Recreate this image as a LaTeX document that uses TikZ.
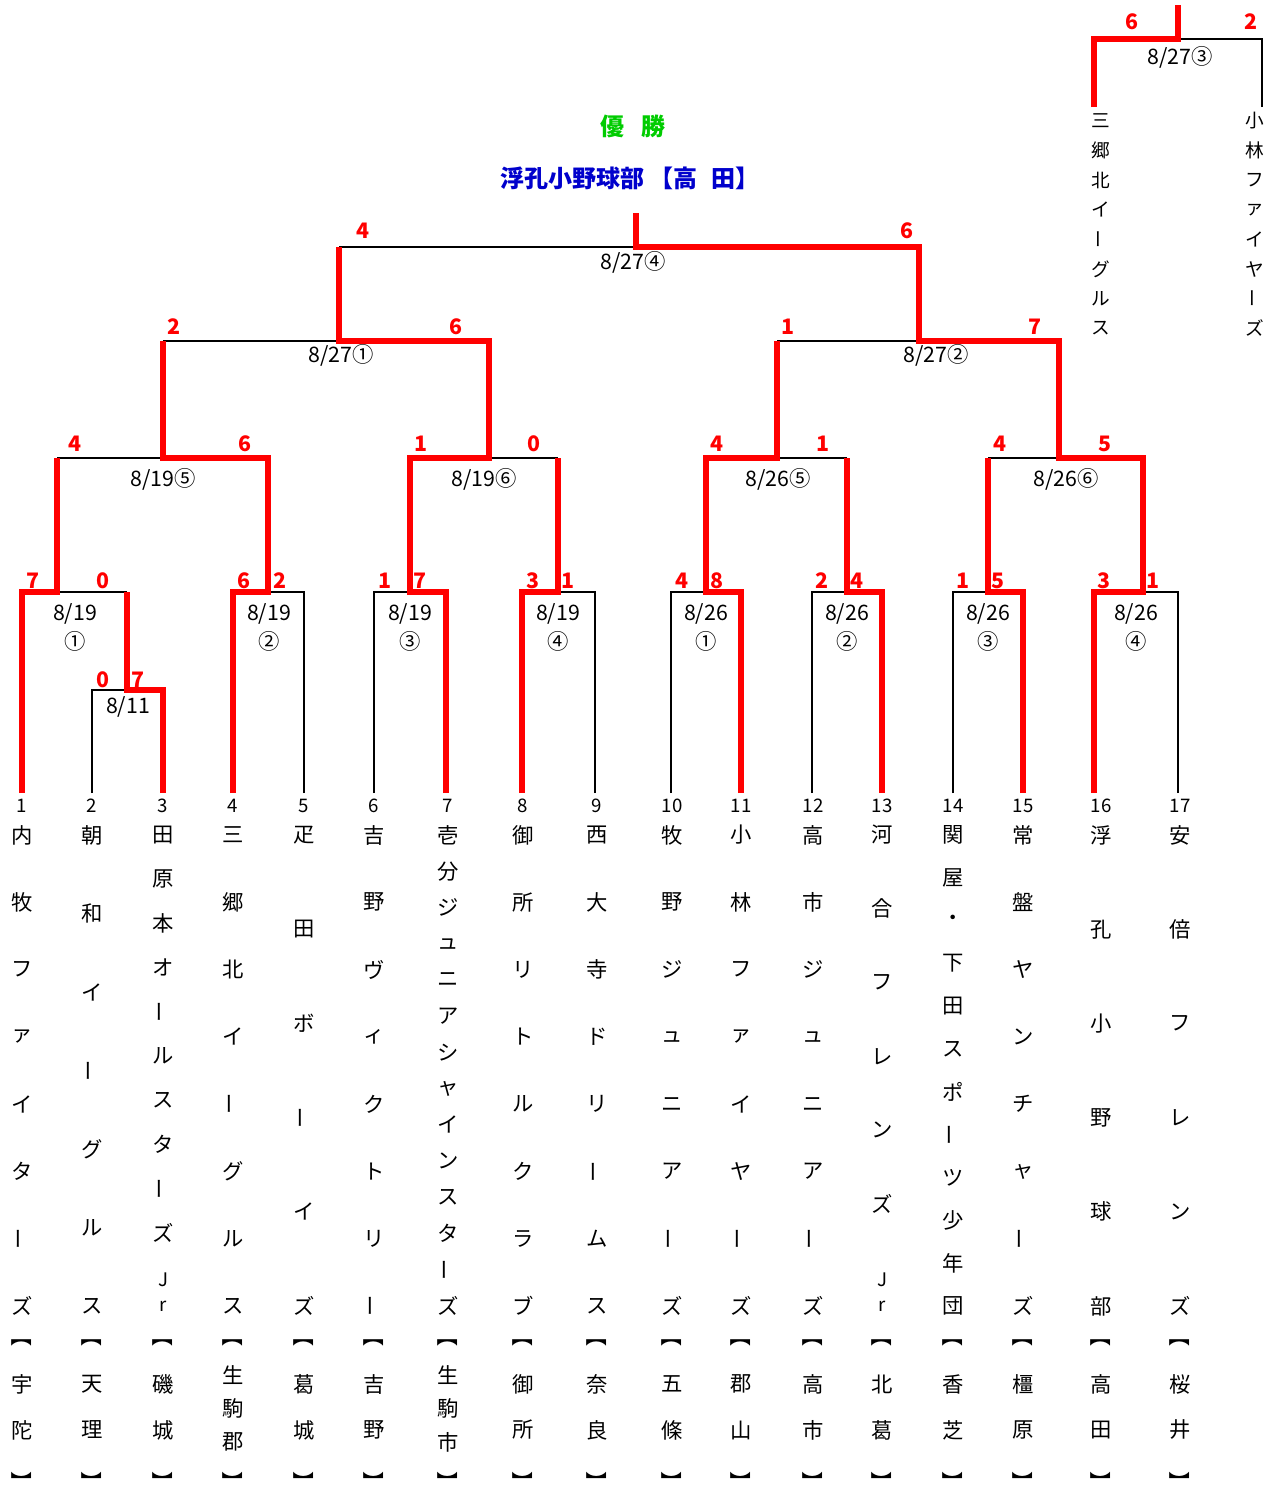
\documentclass[tikz,border=0pt]{standalone}
\usepackage{fontspec}
\setmainfont{Noto Sans CJK JP}
\usepackage{graphicx}
\usepackage{tikz}

\definecolor{winred}{RGB}{255,0,0}
\definecolor{champgreen}{RGB}{0,204,0}
\definecolor{champblue}{RGB}{0,0,204}

% vertical long vowel mark
\newcommand\chou{\rotatebox{90}{ー}}
% vertical text column: prefix, x, first y, step, chars
\newcommand\vtext[5]{%
  \foreach \ch [count=\k from 0] in {#5}
    \node[vchar] (#1-\k) at (#2,{#3+\k*#4}) {\ch};}

\tikzset{
  lose/.style={line width=2.2pt, black},
  win/.style={line width=5pt, winred},
  vchar/.style={inner sep=0pt, font=\fontsize{16pt}{16pt}\selectfont},
  smallchar/.style={inner sep=0pt, font=\fontsize{14pt}{14pt}\selectfont},
  num/.style={inner sep=0pt, font=\fontsize{14pt}{14pt}\selectfont},
  score/.style={inner sep=0pt, text=winred, font=\fontsize{16pt}{16pt}\selectfont\bfseries},
  datelbl/.style={inner sep=0pt, font=\fontsize{16pt}{16pt}\selectfont},
  bracketmark/.style={inner sep=0pt, rotate=-90, font=\fontsize{16pt}{16pt}\selectfont}
}

\begin{document}
\begin{tikzpicture}[x=0.75pt,y=-0.75pt]
    \useasboundingbox (0,0) rectangle (1279,1485);

    % Teams: line foot and number
    \foreach \x/\nx [count=\i] in {22/22,92/92,163/163,233/233,304/304,374/374,446/448,522/523,595/597,
        671/672,741/741,812/813,882/882,953/953,1023/1023,1094/1101,1178/1180} {
      \coordinate (t\i) at (\x,793);
      \node[num] (n\i) at (\nx,806) {\i};
    }

    % Match points
    \coordinate (m0) at (127,690);
    \coordinate (a1) at (57,592);
    \coordinate (a2) at (268,592);
    \coordinate (a3) at (410,592);
    \coordinate (a4) at (558,592);
    \coordinate (a5) at (706,592);
    \coordinate (a6) at (847,592);
    \coordinate (a7) at (988,592);
    \coordinate (a8) at (1143,592);
    \coordinate (b1) at (163,458);
    \coordinate (b2) at (489,458);
    \coordinate (b3) at (777,458);
    \coordinate (b4) at (1059,458);
    \coordinate (c1) at (339,341);
    \coordinate (c2) at (919,341);
    \coordinate (f) at (636,247);
    \coordinate (champ) at (636,213);
    % third place game
    \coordinate (p3) at (1178,39);
    \coordinate (p3top) at (1178,5);
    \coordinate (q1) at (1094,107);
    \coordinate (q2) at (1262,107);

    % Losing sides
    \draw[lose] (t2) |- (m0);
    \draw[lose] (m0 |- a1) -- (a1);
    \draw[lose] (t5) |- (a2);
    \draw[lose] (t6) |- (a3);
    \draw[lose] (t9) |- (a4);
    \draw[lose] (t10) |- (a5);
    \draw[lose] (t12) |- (a6);
    \draw[lose] (t14) |- (a7);
    \draw[lose] (t17) |- (a8);
    \draw[lose] (a1 |- b1) -- (b1);
    \draw[lose] (a4 |- b2) -- (b2);
    \draw[lose] (a6 |- b3) -- (b3);
    \draw[lose] (a7 |- b4) -- (b4);
    \draw[lose] (b1 |- c1) -- (c1);
    \draw[lose] (b3 |- c2) -- (c2);
    \draw[lose] (c1 |- f) -- (f);
    \draw[lose] (q2) |- (p3);

    % Winning paths
    \draw[win] (t1) |- (a1) -- (a1 |- b1);
    \draw[win] (t3) |- (m0) -- (m0 |- a1);
    \draw[win] (t4) |- (a2) |- (b1) -- (b1 |- c1);
    \draw[win] (t7) |- (a3) |- (b2) |- (c1) -- (c1 |- f);
    \draw[win] (t8) |- (a4) -- (a4 |- b2);
    \draw[win] (t11) |- (a5) |- (b3) -- (b3 |- c2);
    \draw[win] (t13) |- (a6) -- (a6 |- b3);
    \draw[win] (t15) |- (a7) -- (a7 |- b4);
    \draw[win] (t16) |- (a8) |- (b4) |- (c2) |- (f) -- (champ);
    \draw[win] (q1) |- (p3) -- (p3top);

    % Scores
    \foreach \x/\y/\s [count=\i] in {103/680/0,138/680/7,
        33/581/7,103/581/0,244/581/6,280/581/2,385/581/1,420/581/7,533/581/3,568/581/1,
        682/581/4,717/581/8,822/581/2,857/581/4,963/581/1,998/581/5,1104/581/3,1153/581/1,
        75/444/4,245/444/6,421/444/1,534/444/0,717/444/4,823/444/1,1000/444/4,1105/444/5,
        174/327/2,456/327/6,788/327/1,1035/327/7,363/231/4,907/231/6,1132/22/6,1251/22/2}
      \node[score] (sc\i) at (\x,\y) {\s};

    % Dates
    \foreach \x/\y/\d [count=\i] in {128/707/{8/11},
        75/614/{8/19},75/641/①,269/614/{8/19},269/641/②,410/614/{8/19},410/641/③,558/614/{8/19},558/641/④,
        706/614/{8/26},706/641/①,847/614/{8/26},847/641/②,988/614/{8/26},988/641/③,1136/614/{8/26},1136/641/④,
        163/479/{8/19⑤},484/479/{8/19⑥},778/479/{8/26⑤},1066/479/{8/26⑥},
        341/355/{8/27①},936/355/{8/27②},633/262/{8/27④},1180/57/{8/27③}}
      \node[datelbl] (dt\i) at (\x,\y) {\d};

    % Champion
    \node[inner sep=0pt, text=champgreen, font=\fontsize{18pt}{18pt}\selectfont\bfseries] (yusho) at (633,126) {優\hspace{0.7em}勝};
    \node[inner sep=0pt, text=champblue, font=\fontsize{18pt}{18pt}\selectfont\bfseries] (winner) at (630,178) {浮孔小野球部 【高\hspace{0.6em}田】};

    % Third place teams
    \begin{scope}[vchar/.append style={font=\fontsize{14pt}{14pt}\selectfont}]
      \vtext{pa}{1101}{121}{29.6}{三,郷,北,イ,\chou,グ,ル,ス}
      \vtext{pb}{1255}{121}{29.6}{小,林,フ,ァ,イ,ヤ,\chou,ズ}
    \end{scope}

    % Team names
    \vtext{tn1}{22}{835}{67.29}{内,牧,フ,ァ,イ,タ,\chou,ズ}
    \vtext{tn2}{92}{835}{78.5}{朝,和,イ,\chou,グ,ル,ス}
    \vtext{tn3}{163}{835}{44.2}{田,原,本,オ,\chou,ル,ス,タ,\chou,ズ}
    \node[smallchar] (tn3-j) at (163,1280) {J};
    \node[smallchar] (tn3-r) at (163,1306) {r};
    \vtext{tn4}{233}{835}{67.29}{三,郷,北,イ,\chou,グ,ル,ス}
    \vtext{tn5}{304}{835}{94.2}{疋,田,ボ,\chou,イ,ズ}
    \vtext{tn6}{374}{835}{67.29}{吉,野,ヴ,ィ,ク,ト,リ,\chou}
    \vtext{tn7}{448}{835}{36.23}{壱,分,ジ,ュ,ニ,ア,シ,ャ,イ,ン,ス,タ,\chou,ズ}
    \vtext{tn8}{523}{835}{67.29}{御,所,リ,ト,ル,ク,ラ,ブ}
    \vtext{tn9}{597}{835}{67.29}{西,大,寺,ド,リ,\chou,ム,ス}
    \vtext{tn10}{672}{835}{67.29}{牧,野,ジ,ュ,ニ,ア,\chou,ズ}
    \vtext{tn11}{741}{835}{67.29}{小,林,フ,ァ,イ,ヤ,\chou,ズ}
    \vtext{tn12}{813}{835}{67.29}{高,市,ジ,ュ,ニ,ア,\chou,ズ}
    \vtext{tn13}{882}{835}{73.8}{河,合,フ,レ,ン,ズ}
    \node[smallchar] (tn13-j) at (882,1280) {J};
    \node[smallchar] (tn13-r) at (882,1306) {r};
    \vtext{tn14}{953}{835}{42.82}{関,屋,・,下,田,ス,ポ,\chou,ツ,少,年,団}
    \vtext{tn15}{1023}{835}{67.29}{常,盤,ヤ,ン,チ,ャ,\chou,ズ}
    \vtext{tn16}{1101}{835}{94.2}{浮,孔,小,野,球,部}
    \vtext{tn17}{1180}{835}{94.2}{安,倍,フ,レ,ン,ズ}

    % Home towns
    \foreach \x [count=\i] in {22,92,163,233,304,374,448,523,597,672,741,813,882,953,1023,1101,1180} {
      \node[bracketmark] (lo\i) at (\x,1341) {\makebox[0.5em][r]{【}};
      \node[bracketmark] (lc\i) at (\x,1477) {\makebox[0.5em][l]{】}};
    }
    \vtext{hm1}{22}{1384}{46}{宇,陀}
    \vtext{hm2}{92}{1384}{46}{天,理}
    \vtext{hm3}{163}{1384}{46}{磯,城}
    \vtext{hm4}{233}{1375}{33.5}{生,駒,郡}
    \vtext{hm5}{304}{1384}{46}{葛,城}
    \vtext{hm6}{374}{1384}{46}{吉,野}
    \vtext{hm7}{448}{1375}{33.5}{生,駒,市}
    \vtext{hm8}{523}{1384}{46}{御,所}
    \vtext{hm9}{597}{1384}{46}{奈,良}
    \vtext{hm10}{672}{1384}{46}{五,條}
    \vtext{hm11}{741}{1384}{46}{郡,山}
    \vtext{hm12}{813}{1384}{46}{高,市}
    \vtext{hm13}{882}{1384}{46}{北,葛}
    \vtext{hm14}{953}{1384}{46}{香,芝}
    \vtext{hm15}{1023}{1384}{46}{橿,原}
    \vtext{hm16}{1101}{1384}{46}{高,田}
    \vtext{hm17}{1180}{1384}{46}{桜,井}
\end{tikzpicture}
\end{document}
